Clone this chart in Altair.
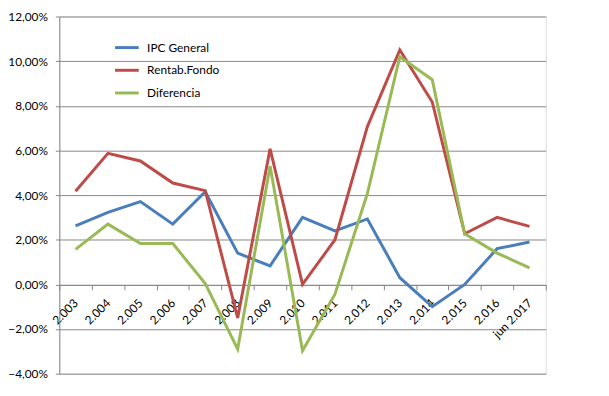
import altair as alt
import pandas as pd

categories = ["2.003", "2.004", "2.005", "2.006", "2.007", "2.008", "2.009", "2.010",
              "2.011", "2.012", "2.013", "2.014", "2.015", "2.016", "jun 2.017"]
series_names = ["IPC General", "Rentab.Fondo", "Diferencia"]
ipc_general = [2.62, 3.23, 3.71, 2.70, 4.15, 1.40, 0.83, 3.00, 2.40, 2.93, 0.30, -1.00, 0.00, 1.60, 1.90]
rentab_fondo = [4.17, 5.87, 5.53, 4.54, 4.20, -1.50, 6.07, 0.00, 2.00, 7.07, 10.50, 8.17, 2.27, 3.00, 2.60]
diferencia = [1.57, 2.70, 1.83, 1.83, 0.04, -2.90, 5.30, -2.97, -0.44, 4.07, 10.20, 9.17, 2.27, 1.40, 0.74]
y_ticks = [-4, -2, 0, 2, 4, 6, 8, 10, 12]
colors = ["#4A7EBB", "#BE4B48", "#98B954"]

rows = []
for name, vals in zip(series_names, [ipc_general, rentab_fondo, diferencia]):
    for c, v in zip(categories, vals):
        rows.append({"cat": c, "serie": name, "valor": v})
df = pd.DataFrame(rows)

FONT = "Lato"

chart = alt.Chart(df).mark_line(strokeWidth=3).encode(
    x=alt.X("cat:O", sort=categories,
            scale=alt.Scale(type="band", paddingInner=0, paddingOuter=0),
            axis=alt.Axis(title=None, labelAngle=-45, labelAlign="right", labelBaseline="middle",
                          tickBand="extent", tickSize=5, labelPadding=11, offset=-90,
                          domainColor="#868686", tickColor="#868686", grid=False,
                          labelFont=FONT, labelFontSize=12, labelColor="#000000")),
    y=alt.Y("valor:Q", scale=alt.Scale(domain=[-4, 12], nice=False),
            axis=alt.Axis(title=None, values=y_ticks,
                          labelExpr="replace(format(datum.value, '.2f'), '.', ',') + '%'",
                          tickSize=4, labelPadding=8, domainColor="#868686", tickColor="#868686",
                          gridColor="#868686", gridWidth=1,
                          labelFont=FONT, labelFontSize=12, labelColor="#000000")),
    color=alt.Color("serie:N", sort=series_names,
                    scale=alt.Scale(domain=series_names, range=colors),
                    legend=alt.Legend(title=None, orient="none", legendX=55, legendY=18,
                                      symbolType="stroke", symbolSize=576, symbolStrokeWidth=3,
                                      rowPadding=3, labelOffset=7, padding=0,
                                      labelFont=FONT, labelFontSize=12, labelColor="#000000")),
).properties(
    width=493, height=362,
    padding={"left": 52, "top": 6, "right": 56, "bottom": 20},
    autosize=alt.AutoSizeParams(type="none"),
).configure_view(strokeWidth=0).configure(background="#ffffff")

chart.save("out.html", embed_options={"renderer": "svg", "actions": False})
